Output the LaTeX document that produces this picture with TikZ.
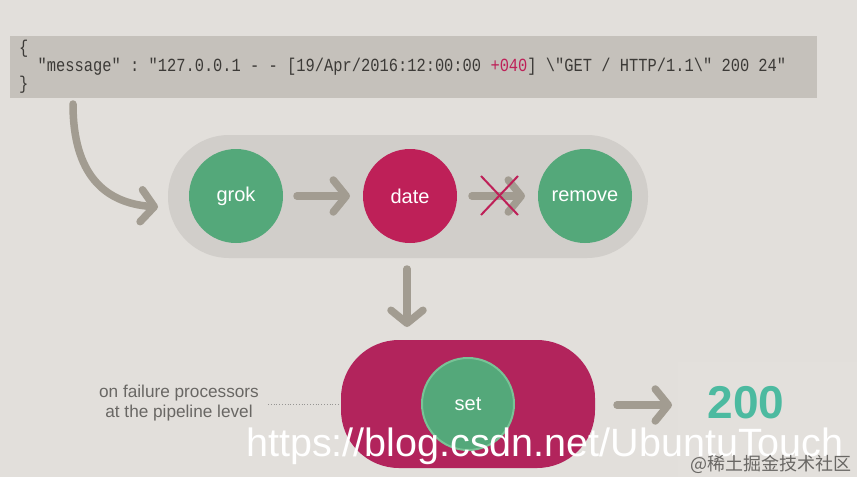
\documentclass[tikz,border=0pt]{standalone}
\usepackage{fontspec}
\setmainfont{Liberation Sans}
\setmonofont{Liberation Mono}
\newfontfamily\cjkfont{Noto Sans CJK SC}
\usetikzlibrary{arrows.meta}
\definecolor{bgc}{RGB}{226,223,219}
\definecolor{codebg}{RGB}{197,193,187}
\definecolor{codetxt}{RGB}{60,58,55}
\definecolor{pillg}{RGB}{209,206,202}
\definecolor{grn}{RGB}{84,168,122}
\definecolor{grnrim}{RGB}{120,195,150}
\definecolor{crim}{RGB}{190,32,88}
\definecolor{crimp}{RGB}{178,36,92}
\definecolor{arrg}{RGB}{162,156,145}
\definecolor{teal}{RGB}{76,186,160}
\definecolor{labg}{RGB}{105,103,100}
\tikzset{
  proc/.style={circle,minimum size=94pt,inner sep=0pt,text=white,font=\fontsize{20}{24}\selectfont},
  flow/.style={draw=arrg,line width=7.5pt,line cap=round,
    -{Straight Barb[round,length=13pt,width=32pt]}},
  codeline/.style={anchor=west,inner sep=0pt,text=codetxt,font=\ttfamily\fontsize{15.4}{17}\selectfont},
}
\begin{document}
\begin{tikzpicture}[x=1pt,y=-1pt]
\useasboundingbox (0,0) rectangle (857,477);
\fill[bgc] (0,0) rectangle (857,477);
\fill[bgc!97!white] (678,362) rectangle (857,477);
% code box
\fill[codebg] (10,36) rectangle (817,98);
\node[codeline] (l1) at (19,49) {\scalebox{1}[1.2]{\{}};
\node[codeline] (l2) at (19,67) {\scalebox{1}[1.2]{\ \ "message" : "127.0.0.1 - - [19/Apr/2016:12:00:00 \textcolor{crim}{+040}] \textbackslash"GET / HTTP/1.1\textbackslash" 200 24"}};
\node[codeline] (l3) at (19,85) {\scalebox{1}[1.2]{\}}};
% pill container
\fill[pillg,rounded corners=61pt] (168,135) rectangle (648,258);
\node[proc,fill=grn] (grok) at (236,196) {grok};
\node[proc,fill=crim] (date) at (410,196) {date};
\node[proc,fill=grn] (remove) at (585,196) {remove};
% curved arrow
\coordinate (cs) at (73,104);
\coordinate (ce) at (158,207);
\draw[flow] (cs) .. controls (73,175) and (105,203) .. (ce);
\draw[flow] (297,196) -- (350,196);
\draw[flow] (472,196) -- (525,196);
\draw[crim,line width=2pt] (481,176) -- (518,215);
\draw[crim,line width=2pt] (481,215) -- (518,176);
% down arrow
\coordinate (dstart) at (407,269);
\coordinate (dend) at (407,327);
\draw[flow] (dstart) -- (dend);
% crimson pill
\fill[crimp,rounded corners=58pt] (341,340) rectangle (595,468);
\node[proc,fill=grn,draw=grnrim,line width=2pt,minimum size=92pt] (set) at (468,404) {set};
% label
\node[text=labg,align=center,font=\fontsize{17.2}{20}\selectfont] (lab) at (179,403) {on failure processors\\at the pipeline level};
\draw[labg!70,dotted,line width=0.8pt] (268,404) -- (340,404);
% output
\draw[flow] (617,405) -- (672,405);
\node[text=teal,font=\bfseries\fontsize{46}{50}\selectfont,inner sep=0pt] (res) at (746,403) {200};
% watermark
\node[text=white,anchor=base west,inner sep=0pt,font=\fontsize{39.5}{44}\selectfont] (wm) at (246,456) {https://blog.csdn.net/UbuntuTouch};
\node[text=labg,anchor=base west,inner sep=0pt,font=\cjkfont\fontsize{18}{20}\selectfont] (wm2) at (690,470) {@稀土掘金技术社区};
\end{tikzpicture}
\end{document}
